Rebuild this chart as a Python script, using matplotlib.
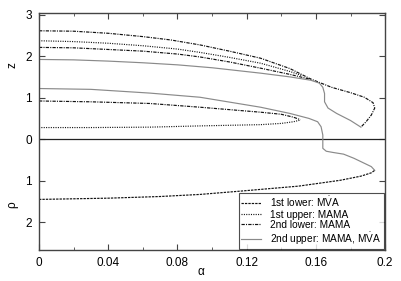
import matplotlib
matplotlib.use("Agg")
import matplotlib.pyplot as plt
from matplotlib.ticker import MultipleLocator

plt.rcParams['font.family'] = ['Liberation Sans', 'DejaVu Sans']
plt.rcParams['mathtext.fontset'] = 'custom'
plt.rcParams['mathtext.rm'] = 'Liberation Sans'
plt.rcParams['mathtext.it'] = 'Liberation Sans'

# Upper half (z > 0)
a_top = [0, 0.02, 0.04, 0.06, 0.076, 0.093, 0.11, 0.128, 0.145, 0.157, 0.169, 0.180, 0.188, 0.193, 0.194, 0.192, 0.189, 0.186]
z_top = [2.61, 2.60, 2.55, 2.47, 2.39, 2.27, 2.12, 1.95, 1.70, 1.45, 1.25, 1.12, 1.01, 0.88, 0.75, 0.58, 0.42, 0.29]

a_b = [0, 0.02, 0.04, 0.06, 0.08, 0.093, 0.11, 0.128, 0.145, 0.152]
z_b = [2.37, 2.35, 2.31, 2.25, 2.17, 2.09, 1.97, 1.83, 1.63, 1.53]

a_c = [0, 0.02, 0.04, 0.06, 0.08, 0.093, 0.11, 0.128, 0.145, 0.157]
z_c = [2.21, 2.20, 2.16, 2.12, 2.05, 1.98, 1.86, 1.71, 1.56, 1.44]

a_d = [0, 0.02, 0.04, 0.06, 0.08, 0.10, 0.128, 0.145, 0.157, 0.162, 0.164, 0.165, 0.165, 0.167, 0.172, 0.180, 0.186]
z_d = [1.92, 1.91, 1.88, 1.84, 1.79, 1.72, 1.59, 1.50, 1.42, 1.35, 1.25, 1.10, 0.90, 0.75, 0.62, 0.45, 0.29]

# Gray branch crossing into lower half (negative = rho)
a_e = [0, 0.03, 0.064, 0.093, 0.128, 0.145, 0.156, 0.161, 0.163, 0.164, 0.164, 0.164, 0.166, 0.170, 0.176, 0.182, 0.187, 0.192, 0.194]
z_e = [1.22, 1.20, 1.11, 1.01, 0.77, 0.62, 0.50, 0.42, 0.30, 0.10, -0.10, -0.22, -0.29, -0.32, -0.36, -0.46, -0.56, -0.66, -0.75]

# 1st lower: dashed, lower half
a_f = [0, 0.04, 0.07, 0.093, 0.1165, 0.15, 0.174, 0.186, 0.192, 0.194]
r_f = [-1.45, -1.42, -1.38, -1.33, -1.25, -1.13, -0.99, -0.89, -0.81, -0.75]

a_g = [0, 0.03, 0.064, 0.093, 0.128, 0.14, 0.147, 0.151]
z_g = [0.92, 0.90, 0.86, 0.77, 0.65, 0.60, 0.53, 0.47]

a_h = [0, 0.03, 0.064, 0.093, 0.128, 0.14, 0.147, 0.151]
z_h = [0.28, 0.28, 0.29, 0.32, 0.35, 0.38, 0.42, 0.46]

xticks = [0, 0.04, 0.08, 0.12, 0.16, 0.2]
xticklabels = ["0", "0.04", "0.08", "0.12", "0.16", "0.2"]
yticks = [-2, -1, 0, 1, 2, 3]
yticklabels = ["2", "1", "0", "1", "2", "3"]

fig = plt.figure(figsize=(4.02, 2.81), dpi=100)
ax = fig.add_axes([0.097, 0.110, 0.861, 0.844])

black = "#111111"
gray = "#8a8a8a"
lw = 0.85
dashed = (0, (2.0, 0.9))
dotted = (0, (0.9, 1.1))
dashdot = (0, (2.8, 1.0, 0.9, 1.0))

ax.axhline(0, color="#222222", lw=0.9)

ax.plot(a_top, z_top, color=black, lw=lw, ls=dashdot)
ax.plot(a_b, z_b, color=black, lw=lw, ls=dotted)
ax.plot(a_c, z_c, color=black, lw=lw, ls=dashdot)
ax.plot(a_d, z_d, color=gray, lw=lw, ls='-')
ax.plot(a_e, z_e, color=gray, lw=lw, ls='-')
ax.plot(a_g, z_g, color=black, lw=lw, ls=dashdot)
ax.plot(a_h, z_h, color=black, lw=lw, ls=dotted)

mva = r"M$\dot{\mathrm{V}}$A"
l1, = ax.plot(a_f, r_f, color=black, lw=lw, ls=dashed, label="1st lower: " + mva)
l2, = ax.plot([], [], color=black, lw=lw, ls=dotted, label="1st upper: MAMA")
l3, = ax.plot([], [], color=black, lw=lw, ls=dashdot, label="2nd lower: MAMA")
l4, = ax.plot([], [], color=gray, lw=lw, ls='-', label="2nd upper: MAMA, " + mva)

ax.set_xlim(0, 0.2)
ax.set_ylim(-2.67, 3.04)
ax.set_xticks(xticks)
ax.set_xticklabels(xticklabels)
ax.xaxis.set_minor_locator(MultipleLocator(0.02))
ax.set_yticks(yticks)
ax.set_yticklabels(yticklabels)
ax.tick_params(which='both', direction='in', top=True, right=True, labelsize=8.5, pad=5,
               color="#444444")
ax.tick_params(which='major', length=4)
ax.tick_params(which='minor', length=2)
for s in ax.spines.values():
    s.set_linewidth(1.0)
    s.set_color("#444444")

fig.text(0.030, 0.77, "z", rotation=90, fontsize=8.5, ha='center', va='center')
fig.text(0.030, 0.27, "\u03c1", rotation=90, fontsize=8.5, ha='center', va='center')
fig.text(0.50, 0.033, "\u03b1", fontsize=8.5, ha='center', va='center')

leg = ax.legend(handles=[l1, l2, l3, l4], loc='lower right', fontsize=7.3, frameon=True,
                fancybox=False, edgecolor="#222222", handlelength=2.0, handletextpad=0.9,
                borderpad=0.2, labelspacing=0.05, borderaxespad=0.15)
leg.get_frame().set_linewidth(0.8)

fig.savefig("out.png", dpi=100)
